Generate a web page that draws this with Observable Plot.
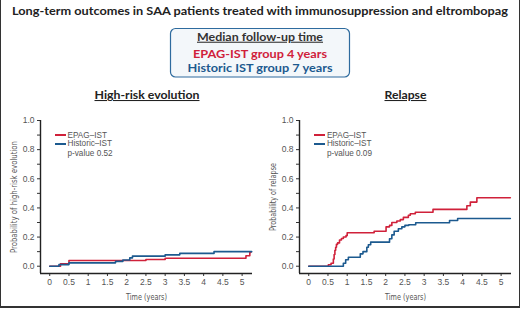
<!DOCTYPE html>
<html><head><meta charset="utf-8">
<script src="https://cdn.jsdelivr.net/npm/d3@7"></script>
<script src="https://cdn.jsdelivr.net/npm/@observablehq/plot@0.6"></script>
<style>
html,body{margin:0;padding:0;background:#fff;}
#wrap{position:relative;width:520px;height:309px;overflow:hidden;font-family:"Liberation Sans",Arial,sans-serif;}
#border{position:absolute;left:0;top:-3px;width:520px;height:311px;box-sizing:border-box;border:1px solid #333;border-bottom-width:2px;}
.plot{position:absolute;top:110px;}
.sw{position:absolute;height:1.7px;}
.lt{position:absolute;font-size:8.2px;line-height:9px;color:#555;white-space:nowrap;font-family:"Liberation Sans",Arial,sans-serif;}
</style>
</head><body>
<div id="wrap">
<svg id="hdr" width="520" height="110" style="position:absolute;left:0;top:0"></svg>
<div id="border"></div>
</div>
<script>
// ---- text ----
const mainTitle = "Long-term outcomes in SAA patients treated with immunosuppression and eltrombopag";
const boxTitle = "Median follow-up time";
const boxLines = ["EPAG-IST group 4 years", "Historic IST group 7 years"];
const panelTitles = ["High-risk evolution", "Relapse"];
const yLabels = ["Probability of high-risk evolution", "Probability of relapse"];
const xLabel = "Time (years)";
const seriesNames = ["EPAG–IST", "Historic–IST"];
const seriesColors = ["#d0213a", "#1c5a8f"];
const pValues = ["p-value 0.52", "p-value 0.09"];

// ---- ticks ----
const xTicks = [0, 0.5, 1, 1.5, 2, 2.5, 3, 3.5, 4, 4.5, 5];
const xTickLabels = ["0", "0.5", "1", "1.5", "2", "2.5", "3", "3.5", "4", "4.5", "5"];
const yTicks = [0, 0.1, 0.2, 0.3, 0.4, 0.5, 0.6, 0.7, 0.8, 0.9, 1.0];
const yTickLabels = ["0.0", "", "0.2", "", "0.4", "", "0.6", "", "0.8", "", "1.0"];

// ---- data: high-risk evolution ----
const hreEpagT = [0, 0.28, 0.50, 2.50, 3.00, 5.10, 5.20, 5.23];
const hreEpagP = [0, 0.017, 0.039, 0.046, 0.055, 0.072, 0.095, 0.095];
const hreHistT = [0, 0.24, 0.50, 1.71, 1.90, 2.08, 2.15, 3.00, 3.38, 4.27, 5.25];
const hreHistP = [0, 0.011, 0.023, 0.033, 0.043, 0.057, 0.069, 0.078, 0.088, 0.100, 0.100];

// ---- data: relapse ----
const relEpagT = [0, 0.51, 0.58, 0.64, 0.66, 0.68, 0.70, 0.72, 0.75, 0.80, 0.85, 0.90, 0.97, 1.00, 1.70, 2.01, 2.10, 2.16, 2.29, 2.38, 2.46, 2.59, 2.64, 2.77, 3.23, 4.11, 4.20, 4.37, 5.24];
const relEpagP = [0, 0.01, 0.02, 0.05, 0.08, 0.11, 0.13, 0.15, 0.16, 0.18, 0.19, 0.20, 0.21, 0.23, 0.24, 0.27, 0.28, 0.30, 0.31, 0.32, 0.335, 0.35, 0.36, 0.37, 0.39, 0.415, 0.44, 0.47, 0.47];
const relHistT = [0, 0.90, 0.96, 1.03, 1.34, 1.41, 1.51, 1.55, 1.61, 2.10, 2.16, 2.22, 2.33, 2.42, 2.50, 2.60, 2.78, 3.66, 3.87, 5.24];
const relHistP = [0, 0.02, 0.044, 0.062, 0.085, 0.10, 0.13, 0.147, 0.165, 0.188, 0.215, 0.24, 0.257, 0.27, 0.28, 0.285, 0.298, 0.314, 0.327, 0.327];

const xDomain = [-0.24, 5.27];
const yDomain = [-0.05, 1];

// ---- header ----
const hdr = d3.select("#hdr");
function txt(x, y, s, o) {
  const t = hdr.append("text").attr("x", x).attr("y", y).attr("text-anchor", "middle")
    .attr("font-family", "Lato, 'Liberation Sans', sans-serif").attr("font-weight", "bold")
    .attr("font-size", o.size).attr("fill", o.fill || "#222").text(s);
  if (o.len) t.attr("textLength", o.len).attr("lengthAdjust", "spacingAndGlyphs");
  if (o.u) t.attr("text-decoration", "underline");
  return t;
}
txt(260, 15, mainTitle, {size: 11.5, len: 496});
hdr.append("rect").attr("x", 170.5).attr("y", 28.5).attr("width", 179).attr("height", 48.5).attr("rx", 5)
  .attr("fill", "#f3f7fa").attr("stroke", "#2e6b9e").attr("stroke-width", 1.2);
txt(260, 40.7, boxTitle, {size: 11, len: 126, u: true, fill: "#333"});
txt(260, 57.7, boxLines[0], {size: 11, len: 134, fill: seriesColors[0]});
txt(260, 72.3, boxLines[1], {size: 11, len: 145, fill: seriesColors[1]});
txt(147, 99, panelTitles[0], {size: 10.5, len: 105, u: true, fill: "#222"});
txt(405.5, 99, panelTitles[1], {size: 10.5, len: 42, u: true, fill: "#222"});

// ---- charts ----
const labelFont = "'Liberation Sans Narrow', 'DejaVu Sans Condensed', sans-serif";
function chart(epT, epP, hiT, hiP, yLabel) {
  const ep = epT.map((t, i) => ({t, p: epP[i]}));
  const hi = hiT.map((t, i) => ({t, p: hiP[i]}));
  return Plot.plot({
    width: 260, height: 199,
    marginTop: 10, marginBottom: 36, marginLeft: 40, marginRight: 8,
    x: {domain: xDomain},
    y: {domain: yDomain},
    style: {fontFamily: "'Liberation Sans', Arial, sans-serif", fontSize: "8.5px", background: "transparent", overflow: "visible", color: "#555"},
    marks: [
      Plot.axisX(xTicks, {tickSize: 3, tickPadding: 2.5, tickFormat: (d, i) => xTickLabels[i], label: null, stroke: "#333", fill: "#555"}),
      Plot.axisY(yTicks, {tickSize: 3, tickPadding: 3, tickFormat: (d, i) => yTickLabels[i], label: null, stroke: "#333", fill: "#555"}),
      Plot.ruleY([yDomain[0]], {stroke: "#222", strokeWidth: 1.4}),
      Plot.ruleX([xDomain[0]], {stroke: "#222", strokeWidth: 1.4}),
      Plot.line(ep, {x: "t", y: "p", curve: "step-after", stroke: seriesColors[0], strokeWidth: 1.6}),
      Plot.line(hi, {x: "t", y: "p", curve: "step-after", stroke: seriesColors[1], strokeWidth: 1.6}),
      Plot.text([yLabel], {frameAnchor: "left", rotate: -90, dx: -26.7, textAnchor: "middle", lineAnchor: "middle", fontSize: 9, fill: "#555", fontFamily: labelFont}),
      Plot.text([xLabel], {frameAnchor: "bottom", dy: 23.5, textAnchor: "middle", lineAnchor: "middle", fontSize: 9, fill: "#555", fontFamily: labelFont})
    ]
  });
}

const wrap = document.getElementById("wrap");
const offsets = [0, 259.4];
const yLabelLens = [112, 68];
const charts = [
  chart(hreEpagT, hreEpagP, hreHistT, hreHistP, yLabels[0]),
  chart(relEpagT, relEpagP, relHistT, relHistP, yLabels[1])
];
charts.forEach((c, k) => {
  c.classList.add("plot");
  c.style.left = offsets[k] + "px";
  wrap.insertBefore(c, document.getElementById("border"));
  d3.select(c).selectAll("text").each(function() {
    const s = this.textContent;
    if (s === yLabels[k]) d3.select(this).attr("textLength", yLabelLens[k]).attr("lengthAdjust", "spacingAndGlyphs");
    if (s === xLabel) d3.select(this).attr("textLength", 41).attr("lengthAdjust", "spacingAndGlyphs");
  });
  // legend
  const L = offsets[k];
  const rows = [135, 143.7, 153.3];
  seriesNames.forEach((n, i) => {
    const sw = document.createElement("div");
    sw.className = "sw";
    sw.style.left = (L + 55) + "px"; sw.style.top = (rows[i] - 0.8) + "px";
    sw.style.width = "10.5px"; sw.style.background = seriesColors[i];
    wrap.appendChild(sw);
    const t = document.createElement("div");
    t.className = "lt"; t.textContent = n;
    t.style.left = (L + 67.5) + "px"; t.style.top = (rows[i] - 4.5) + "px";
    wrap.appendChild(t);
  });
  const pv = document.createElement("div");
  pv.className = "lt"; pv.textContent = pValues[k];
  pv.style.left = (L + 67.5) + "px"; pv.style.top = (rows[2] - 4.5) + "px";
  wrap.appendChild(pv);
});
</script>
</body></html>
